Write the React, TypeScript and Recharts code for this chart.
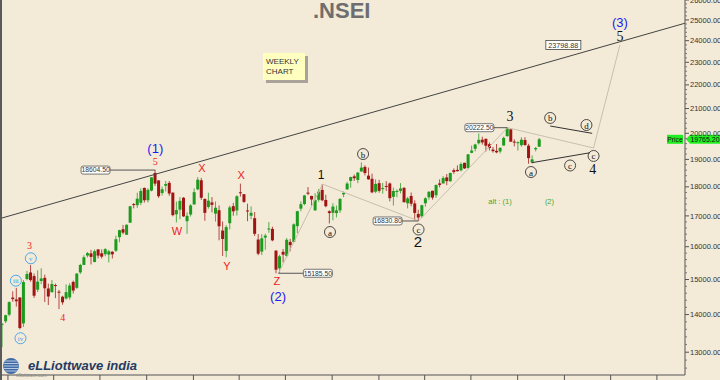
import { ComposedChart, Bar, XAxis, YAxis, ReferenceLine, ReferenceDot } from 'recharts'

// weekly candles, first week starts 2020-12-21, [open, high, low, close]
const START = '2020-12-21'
const weeklyOHLC: [number, number, number, number][] = [
  [13741, 13772, 13131, 13749], [13815, 13997, 13770, 13982], [13997, 14368, 13954, 14347], [14475, 14654, 14357, 14433],
  [14422, 14753, 14222, 14372], [14477, 14491, 13597, 13634], [13758, 14981, 13662, 14924], [15014, 15257, 14977, 15163],
  [15209, 15432, 14935, 14982], [15101, 15176, 14467, 14529], [14702, 15273, 14635, 14938], [14956, 15336, 14862, 15031],
  [15048, 15144, 14350, 14744], [14737, 14878, 14265, 14507], [14628, 14984, 14628, 14867], [14837, 14879, 14460, 14834],
  [14644, 14697, 14151, 14617], [14500, 14527, 14273, 14341], [14449, 14855, 14416, 14631], [14481, 14890, 14417, 14823],
  [14929, 14966, 14592, 14677], [14756, 15190, 14724, 15175], [15211, 15469, 15163, 15435], [15437, 15733, 15431, 15670],
  [15725, 15835, 15667, 15799], [15791, 15901, 15450, 15683], [15525, 15915, 15519, 15860], [15916, 15916, 15635, 15722],
  [15793, 15915, 15632, 15690], [15766, 15952, 15703, 15923], [15754, 15900, 15513, 15856], [15842, 15859, 15632, 15763],
  [15875, 16349, 15834, 16238], [16303, 16543, 16142, 16529], [16560, 16701, 16396, 16450], [16380, 16722, 16375, 16705],
  [16775, 17340, 16764, 17324], [17399, 17436, 17255, 17369], [17363, 17793, 17270, 17585], [17443, 17947, 17364, 17853],
  [17962, 17976, 17452, 17532], [17532, 17948, 17452, 17895], [17867, 18350, 17840, 18338], [18500, 18604.5, 18032, 18114],
  [18229, 18241, 17613, 17672], [17783, 18012, 17697, 17916], [18040, 18210, 17837, 18102], [18141, 18210, 17688, 17765],
  [17796, 17806, 16985, 17026], [17055, 17489, 16782, 17196], [17209, 17639, 16891, 17511], [17619, 17639, 16966, 16985],
  [16824, 17118, 16410, 17003], [17046, 17400, 16979, 17354], [17388, 17944, 17383, 17812], [17913, 18350, 17881, 18256],
  [18235, 18321, 17545, 17617], [17575, 17599, 16837, 17102], [17301, 17794, 17244, 17516], [17456, 17640, 17119, 17375],
  [17076, 17490, 16810, 17276], [17192, 17352, 16203, 16658], [16516, 16815, 15711, 16245], [15867, 16694, 15671, 16630],
  [16757, 17344, 16555, 17287], [17329, 17442, 17006, 17153], [17182, 17703, 17013, 17670], [17809, 18114, 17660, 17784],
  [17741, 17749, 17442, 17476], [17183, 17414, 16824, 17172], [17006, 17322, 16889, 17103], [16924, 17132, 16341, 16411],
  [16227, 16404, 15735, 15782], [15846, 16400, 15739, 16266], [16290, 16414, 15903, 16352], [16578, 16793, 16444, 16584],
  [16570, 16644, 16172, 16202], [15877, 15887, 15183.5, 15293], [15334, 15749, 15191, 15699], [15839, 15927, 15511, 15752],
  [15710, 16275, 15661, 16220], [16151, 16248, 15859, 16049], [16151, 16752, 16142, 16719], [16662, 17172, 16438, 17158],
  [17244, 17490, 17155, 17397], [17402, 17719, 17359, 17698], [17797, 17992, 17710, 17758], [17682, 17685, 17345, 17558],
  [17188, 17777, 17167, 17539], [17547, 17925, 17476, 17833], [17891, 18096, 17497, 17531], [17540, 17723, 17292, 17327],
  [17156, 17187, 16748, 17094], [17102, 17428, 16855, 17315], [17094, 17348, 16950, 17186], [17185, 17607, 17098, 17576],
  [17736, 17838, 17637, 17787], [17910, 18176, 17899, 18117], [18211, 18362, 17969, 18350], [18376, 18442, 18210, 18308],
  [18246, 18529, 18133, 18513], [18552, 18888, 18552, 18696], [18719, 18781, 18410, 18497], [18402, 18697, 18255, 18269],
  [18289, 18473, 17774, 17807], [17830, 18265, 17780, 18105], [18131, 18252, 17795, 17859], [17953, 18141, 17761, 17956],
  [18034, 18201, 17854, 18028], [18119, 18154, 17494, 17604], [17650, 17973, 17353, 17854], [17818, 17917, 17637, 17856],
  [17859, 18134, 17771, 17944], [17965, 17985, 17455, 17465], [17429, 17644, 17255, 17594], [17680, 17800, 17325, 17413],
  [17421, 17529, 16850, 17100], [17066, 17207, 16830.8, 16945], [16985, 17381, 16940, 17359], [17428, 17638, 17312, 17599],
  [17635, 17842, 17553, 17828], [17863, 17863, 17553, 17624], [17707, 18089, 17612, 18065], [18124, 18267, 17983, 18069],
  [18121, 18389, 18120, 18315], [18339, 18459, 18060, 18203], [18201, 18508, 18178, 18499], [18600, 18663, 18464, 18534],
  [18612, 18777, 18555, 18563], [18595, 18887, 18557, 18826], [18873, 18876, 18647, 18665], [18682, 19201, 18647, 19189],
  [19246, 19523, 19234, 19332], [19400, 19595, 19301, 19564], [19613, 19991, 19563, 19745], [19749, 19867, 19563, 19646],
  [19784, 19795, 19296, 19517], [19576, 19646, 19339, 19428], [19370, 19472, 19254, 19310], [19320, 19584, 19229, 19266],
  [19298, 19458, 19224, 19435], [19525, 19867, 19525, 19820], [19890, 20222.5, 19865, 20192], [20156, 20195, 19657, 19674],
  [19678, 19766, 19492, 19638], [19622, 19681, 19333, 19654], [19539, 19843, 19480, 19751], [19738, 19850, 19518, 19543],
  [19521, 19593, 18837, 19047], [18890, 19150, 18850, 19000], [19380, 19470, 19300, 19430], [19480, 19820, 19470, 19765.2],
]

const quarterStarts = [
  '2021-01-01', '2021-04-01', '2021-07-01', '2021-10-01', '2022-01-01', '2022-04-01', '2022-07-01', '2022-10-01',
  '2023-01-01', '2023-04-01', '2023-07-01', '2023-10-01', '2024-01-01', '2024-04-01', '2024-07-01',
]
const yMajor = [13000, 14000, 15000, 16000, 17000, 18000, 19000, 20000, 21000, 22000, 23000, 24000, 25000, 26000]
const lastPrice = 19765.2

// wave labels: week index, price
const primaryLabels = [
  { t: '(1)', w: 43, p: 19430 }, { t: '(2)', w: 77.5, p: 14518 }, { t: '(3)', w: 173.6, p: 24874 },
]
const waveOneTwo = [{ t: '1', w: 89.6, p: 18424 }, { t: '2', w: 116.8, p: 16149 }]
const waveThreeToFive = [{ t: '3', w: 142.7, p: 20653 }, { t: '4', w: 166, p: 18624 }, { t: '5', w: 173.6, p: 24175 }]
const minorNumbers = [{ t: '3', w: 7.6, p: 16052 }, { t: '4', w: 17, p: 13913 }, { t: '5', w: 43, p: 18938 }]
const minorLetters = [
  { t: 'W', w: 49.1, p: 16502 }, { t: 'X', w: 56.1, p: 18681 }, { t: 'Y', w: 63.1, p: 15405 },
  { t: 'X', w: 67.1, p: 18424 }, { t: 'Z', w: 77.2, p: 14955 },
]
const circledLetters = [
  { t: 'a', w: 92.1, p: 16469 }, { t: 'b', w: 101.4, p: 19201 }, { t: 'c', w: 117, p: 16551 },
  { t: 'a', w: 148.6, p: 18533 }, { t: 'b', w: 154, p: 20613 }, { t: 'c', w: 159.6, p: 18773 },
  { t: 'd', w: 164.2, p: 20330 }, { t: 'c', w: 166.2, p: 19129 },
]
const minuteLabels = [{ t: 'iii', w: 3.8, p: 14965 }, { t: 'iv', w: 5.1, p: 13362 }, { t: 'v', w: 8.0, p: 15639 }]
const altLabels = [{ t: 'alt : (1)', w: 139.9, p: 17505 }, { t: '(2)', w: 153.8, p: 17505 }]

const priceTags = [
  { v: 18604.5, box: 26.2, bar: 43 }, { v: 15185.5, box: 88.7, bar: 77.6 },
  { v: 16830.8, box: 108.3, bar: 117 }, { v: 20222.5, box: 134.1, bar: 142 },
]
const target = { v: 23798.88, box: 157.7 }

const wavePath: [number, number][] = [[77.6, 15183], [90, 18096], [117, 16830.8], [142, 20222.5], [166.2, 19431], [173.6, 23799]]
const triangleLines: [number, number][][] = [
  [[154, 20290], [165.8, 19999]],
  [[148.8, 18876], [165.2, 19250]],
]
const trendLine: [number, number][] = [[-0.1, 16930], [191.9, 24840]]

const BG = '#F3EAD8'
const UP = '#1e9a1e'
const DOWN = '#a01414'
const SANS = '"Liberation Sans", Arial, sans-serif'
const SERIF = '"Liberation Serif", "Times New Roman", serif'

const weekOf = (d: string) => (Date.parse(d) - Date.parse(START)) / (7 * 864e5)

const data = weeklyOHLC.map(([o, h, l, c], i) => ({ week: i, range: [l, h], open: o, high: h, low: l, close: c }))
const xTicks = quarterStarts.map(weekOf)
const yTicks: number[] = []
for (let v = 12600; v <= 26000; v += 200) yTicks.push(v)

function Candle(props: any) {
  const { x, y, width, height, payload } = props
  if (!payload) return null
  const { open, high, low, close } = payload
  const top = Math.min(y, y + height)
  const bot = Math.max(y, y + height)
  const span = Math.log(high / low) || 1
  const py = (v: number) => top + (Math.log(high / v) / span) * (bot - top)
  const cx = x + width / 2
  const col = close >= open ? UP : DOWN
  const yo = py(open)
  const yc = py(close)
  return (
    <g>
      <line x1={cx} x2={cx} y1={top} y2={bot} stroke={col} strokeOpacity={0.75} strokeWidth={1} />
      <rect x={cx - 1.5} y={Math.min(yo, yc)} width={3} height={Math.max(1, Math.abs(yc - yo))} fill={col} />
    </g>
  )
}

function YTick(props: any) {
  const { x, y, payload } = props
  const v = payload.value as number
  if (yMajor.includes(v)) {
    return (
      <g>
        <line x1={x} x2={x + 4} y1={y} y2={y} stroke="#555" />
        <text x={x + 5} y={y + 2.6} fontSize={7.5} fontFamily={SANS} fill="#333">{v.toFixed(2)}</text>
      </g>
    )
  }
  return <line x1={x} x2={x + 2} y1={y} y2={y} stroke="#777" />
}

function XTick(props: any) {
  const { x, y } = props
  return <line x1={x} x2={x} y1={y} y2={y + 6} stroke="#555" />
}

const dot = (key: string, w: number, p: number, draw: (cx: number, cy: number) => any) => (
  <ReferenceDot key={key} x={w} y={p} r={0} ifOverflow="visible" shape={(s: any) => draw(s.cx, s.cy)} />
)

export default function App() {
  return (
    <div style={{ position: 'relative', width: 720, height: 380, background: BG, overflow: 'hidden' }}>
      <style>{'body{margin:0}'}</style>
      <div style={{ position: 'absolute', left: 0, top: 0, width: 2, height: 380, background: '#5a5a5a' }} />
      <div style={{ position: 'absolute', left: 2, top: 0 }}>
        <ComposedChart width={718} height={380} data={data} margin={{ top: 0, right: 0, left: 0, bottom: 0 }}>
          <XAxis
            dataKey="week"
            type="number"
            domain={[-0.1, 191.9]}
            allowDataOverflow
            ticks={xTicks}
            interval={0}
            height={5}
            tickSize={0}
            tickMargin={0}
            tick={<XTick />}
            axisLine={{ stroke: '#555' }}
          />
          <YAxis
            orientation="right"
            type="number"
            scale="log"
            domain={[12430, 26000]}
            allowDataOverflow
            ticks={yTicks}
            interval={0}
            width={35}
            tickSize={0}
            tickMargin={0}
            tick={<YTick />}
            axisLine={{ stroke: '#555' }}
          />
          <ReferenceLine
            segment={trendLine.map(([w, p]) => ({ x: w, y: p }))}
            stroke="#444"
            strokeWidth={1}
            ifOverflow="visible"
          />
          {wavePath.slice(1).map(([w, p], i) => (
            <ReferenceLine
              key={`wp${i}`}
              segment={[{ x: wavePath[i][0], y: wavePath[i][1] }, { x: w, y: p }]}
              stroke="#c9bfae"
              strokeWidth={1}
              ifOverflow="visible"
            />
          ))}
          {triangleLines.map((seg, i) => (
            <ReferenceLine
              key={`tl${i}`}
              segment={seg.map(([w, p]) => ({ x: w, y: p }))}
              stroke="#333"
              strokeWidth={1}
              ifOverflow="visible"
            />
          ))}
          {priceTags.map((t, i) => (
            <ReferenceLine
              key={`pl${i}`}
              segment={[{ x: t.box, y: t.v }, { x: t.bar, y: t.v }]}
              stroke="#555"
              strokeWidth={1}
              ifOverflow="visible"
            />
          ))}
          <Bar dataKey="range" barSize={3} shape={<Candle />} isAnimationActive={false} />

          {priceTags.map((t, i) =>
            dot(`pt${i}`, t.box, t.v, (cx, cy) => (
              <g>
                <rect x={cx - 14.5} y={cy - 4} width={29} height={8} rx={2} fill="#fff" stroke="#555" strokeWidth={0.8} />
                <text x={cx} y={cy + 2.4} textAnchor="middle" fontSize={6.8} fontFamily={SANS} fill="#333">{t.v.toFixed(2)}</text>
              </g>
            )),
          )}
          {dot('target', target.box, target.v, (cx, cy) => (
            <g>
              <rect x={cx - 17.5} y={cy - 4.5} width={35} height={9} fill="#fff" stroke="#444" strokeWidth={0.8} />
              <text x={cx} y={cy + 2.6} textAnchor="middle" fontSize={7.2} fontFamily={SANS} fill="#333">{target.v.toFixed(2)}</text>
            </g>
          ))}

          {primaryLabels.map((l, i) =>
            dot(`pr${i}`, l.w, l.p, (cx, cy) => (
              <text x={cx} y={cy} textAnchor="middle" dominantBaseline="central" fontSize={13} fontFamily={SANS} fill="#1c1cf0">{l.t}</text>
            )),
          )}
          {waveOneTwo.map((l, i) =>
            dot(`ot${i}`, l.w, l.p, (cx, cy) => (
              <text x={cx} y={cy} textAnchor="middle" dominantBaseline="central" fontSize={i === 0 ? 12 : 15} fontFamily={SANS} fill="#111">{l.t}</text>
            )),
          )}
          {waveThreeToFive.map((l, i) =>
            dot(`tf${i}`, l.w, l.p, (cx, cy) => (
              <text x={cx} y={cy} textAnchor="middle" dominantBaseline="central" fontSize={14} fontFamily={SERIF} fill="#111">{l.t}</text>
            )),
          )}
          {minorNumbers.map((l, i) =>
            dot(`mn${i}`, l.w, l.p, (cx, cy) => (
              <text x={cx} y={cy} textAnchor="middle" dominantBaseline="central" fontSize={10} fontFamily={SERIF} fill="#ee2222">{l.t}</text>
            )),
          )}
          {minorLetters.map((l, i) =>
            dot(`ml${i}`, l.w, l.p, (cx, cy) => (
              <text x={cx} y={cy} textAnchor="middle" dominantBaseline="central" fontSize={11} fontFamily={SANS} fill="#ee2222">{l.t}</text>
            )),
          )}
          {circledLetters.map((l, i) =>
            dot(`cl${i}`, l.w, l.p, (cx, cy) => (
              <g>
                <circle cx={cx} cy={cy} r={5.5} fill="none" stroke="#222" strokeWidth={0.8} />
                <text x={cx} y={cy + 0.5} textAnchor="middle" dominantBaseline="central" fontSize={9} fontFamily={SERIF} fill="#111">{l.t}</text>
              </g>
            )),
          )}
          {minuteLabels.map((l, i) =>
            dot(`mi${i}`, l.w, l.p, (cx, cy) => (
              <g>
                <circle cx={cx} cy={cy} r={5.5} fill="none" stroke="#3aa0ee" strokeWidth={0.9} />
                <text x={cx} y={cy + 0.5} textAnchor="middle" dominantBaseline="central" fontSize={7} fontFamily={SERIF} fill="#3aa0ee">{l.t}</text>
              </g>
            )),
          )}
          {altLabels.map((l, i) =>
            dot(`al${i}`, l.w, l.p, (cx, cy) => (
              <text x={cx} y={cy} textAnchor="middle" dominantBaseline="central" fontSize={7.5} fontFamily={SANS} fill="#3aa83a">{l.t}</text>
            )),
          )}
          {dot('last', 191.9, lastPrice, (cx, cy) => (
            <g>
              <rect x={cx - 18} y={cy - 4.5} width={16} height={9} fill="#22ee22" />
              <text x={cx - 10} y={cy + 2.5} textAnchor="middle" fontSize={6.8} fontFamily={SANS} fill="#111">Price</text>
              <polygon points={`${cx + 1},${cy} ${cx + 5},${cy - 4.5} ${cx + 35},${cy - 4.5} ${cx + 35},${cy + 4.5} ${cx + 5},${cy + 4.5}`} fill="#22ee22" />
              <text x={cx + 20} y={cy + 2.5} textAnchor="middle" fontSize={7} fontFamily={SANS} fill="#111">{lastPrice.toFixed(2)}</text>
            </g>
          ))}
        </ComposedChart>
      </div>

      <svg width={720} height={380} style={{ position: 'absolute', left: 0, top: 0, pointerEvents: 'none' }}>
        <text x={313} y={18} fontSize={22} fontWeight="bold" fontFamily={SANS} fill="#6e6e6e">.NSEI</text>
        <rect x={266} y={56} width={42} height={27} fill="#a8a29a" />
        <rect x={263} y={53} width={42} height={27} fill="#ffffc0" />
        <text x={266} y={64} fontSize={8} fontFamily={SANS} fill="#333">WEEKLY</text>
        <text x={266} y={74} fontSize={8} fontFamily={SANS} fill="#333">CHART</text>
        <g>
          <text x={16} y={377} fontSize={4.5} fontFamily={SANS} fill="#888">elliottwave.com</text>
          <circle cx={11} cy={366} r={8} fill="#3f6aa3" />
          {[-5, -2.5, 0, 2.5, 5].map((d, i) => (
            <line key={i} x1={3.5} x2={18.5} y1={366 + d} y2={366 + d} stroke="#d8e4f2" strokeWidth={0.8} />
          ))}
        </g>
        <text x={28} y={370} fontSize={13} fontStyle="italic" fontWeight="bold" fontFamily={SANS} fill="#253a63">eLLiottwave india</text>
      </svg>
    </div>
  )
}
